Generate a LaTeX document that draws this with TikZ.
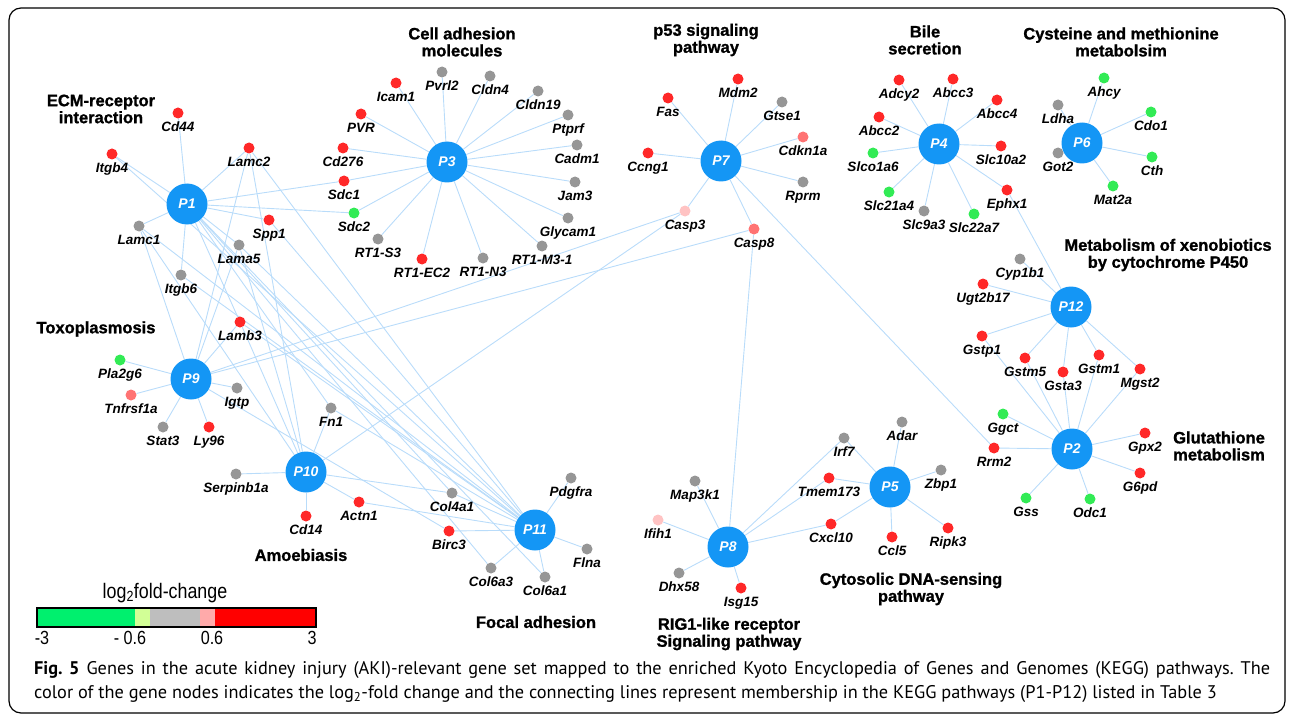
\documentclass[tikz,border=0pt]{standalone}
\usepackage{fontspec}
\setmainfont{Liberation Sans}
\newfontfamily\capfont{PT Sans}
\newfontfamily\narrowfont[FakeStretch=0.85]{Liberation Sans}
\newfontfamily\heavyfont[FakeBold=1.2]{Liberation Sans Bold}
\usetikzlibrary{backgrounds}

\definecolor{hubblue}{RGB}{20,150,245}
\definecolor{linkblue}{RGB}{185,220,250}
\definecolor{redgene}{RGB}{255,40,40}
\definecolor{salmongene}{RGB}{255,115,115}
\definecolor{pinkgene}{RGB}{255,195,195}
\definecolor{greengene}{RGB}{50,235,85}
\definecolor{graygene}{RGB}{150,150,150}
\definecolor{bargreen}{RGB}{0,240,110}
\definecolor{barlime}{RGB}{210,255,150}
\definecolor{bargray}{RGB}{190,190,190}
\definecolor{barpink}{RGB}{255,170,170}
\definecolor{barred}{RGB}{255,0,0}

\newcommand\genefont{\fontsize{13.5}{14}\selectfont\bfseries\itshape}
\newcommand\titlefont{\heavyfont\fontsize{16.5}{17}\selectfont}

\tikzset{
	hub/.style={circle, fill=hubblue, minimum size=41pt, inner sep=0pt, text=white, font=\fontsize{14}{14}\selectfont\bfseries\itshape},
	gene/.style={circle, minimum size=11pt, inner sep=0pt},
	upgene/.style={gene, fill=redgene},
	midgene/.style={gene, fill=salmongene},
	lowgene/.style={gene, fill=pinkgene},
	downgene/.style={gene, fill=greengene},
	flatgene/.style={gene, fill=graygene},
	pathway/.style={font=\titlefont, align=center},
	every label/.style={font=\genefont, inner sep=0.5pt, text height=9.5pt, text depth=2.5pt},
}

\begin{document}
\begin{tikzpicture}[x=1pt, y=-1pt, label distance=3pt]
	\useasboundingbox (0,0) rectangle (1292,722);
	\draw[line width=1.2pt, rounded corners=12pt] (9,8) rectangle (1285,713);

	% pathway hubs
	\node[hub] (p1) at (187,204) {P1};
	\node[hub] (p3) at (447,162) {P3};
	\node[hub] (p7) at (721,161) {P7};
	\node[hub] (p4) at (939,144) {P4};
	\node[hub] (p6) at (1082,143) {P6};
	\node[hub] (p12) at (1071,307) {P12};
	\node[hub] (p2) at (1072,449) {P2};
	\node[hub] (p5) at (890,487) {P5};
	\node[hub] (p8) at (728,547) {P8};
	\node[hub] (p9) at (191,379) {P9};
	\node[hub] (p10) at (306,472) {P10};
	\node[hub] (p11) at (535,530) {P11};

	% ECM-receptor interaction
	\node[upgene, label=below:Cd44] (cd44) at (178,113) {};
	\node[upgene, label=below:Itgb4] (itgb4) at (112,154) {};
	\node[upgene, label=below:Lamc2] (lamc2) at (249,148) {};
	\node[flatgene, label=below:Lamc1] (lamc1) at (139,226) {};
	\node[flatgene, label=below:Itgb6] (itgb6) at (181,275) {};
	\node[flatgene, label=below:Lama5] (lama5) at (239,245) {};
	\node[upgene, label=below:Spp1] (spp1) at (269,220) {};
	\node[upgene, label=below:Sdc1] (sdc1) at (344,181) {};
	\node[downgene, label=below:Sdc2] (sdc2) at (354,213) {};
	\node[upgene, label=below:Lamb3] (lamb3) at (240,322) {};

	% cell adhesion molecules
	\node[upgene, label=below:Icam1] (icam1) at (396,83) {};
	\node[flatgene, label=below:Pvrl2] (pvrl2) at (442,72) {};
	\node[flatgene, label=below:Cldn4] (cldn4) at (490,76) {};
	\node[flatgene, label=below:Cldn19] (cldn19) at (538,91) {};
	\node[flatgene, label=below:Ptprf] (ptprf) at (568,115) {};
	\node[flatgene, label=below:Cadm1] (cadm1) at (577,145) {};
	\node[flatgene, label=below:Jam3] (jam3) at (575,182) {};
	\node[flatgene, label=below:Glycam1] (glycam1) at (568,218) {};
	\node[flatgene, label=below:RT1-M3-1] (rt1m31) at (542,246) {};
	\node[flatgene, label=below:RT1-N3] (rt1n3) at (483,258) {};
	\node[upgene, label=below:RT1-EC2] (rt1ec2) at (422,259) {};
	\node[flatgene, label=below:RT1-S3] (rt1s3) at (378,239) {};
	\node[upgene, label=below:Cd276] (cd276) at (343,148) {};
	\node[upgene, label=below:PVR] (pvr) at (361,114) {};

	% p53 signaling
	\node[upgene, label=below:Fas] (fas) at (668,98) {};
	\node[upgene, label=below:Mdm2] (mdm2) at (738,79) {};
	\node[flatgene, label=below:Gtse1] (gtse1) at (782,102) {};
	\node[midgene, label=below:Cdkn1a] (cdkn1a) at (803,137) {};
	\node[flatgene, label=below:Rprm] (rprm) at (803,182) {};
	\node[upgene, label=below:Ccng1] (ccng1) at (648,153) {};
	\node[lowgene, label=below:Casp3] (casp3) at (685,211) {};
	\node[midgene, label=below:Casp8] (casp8) at (754,229) {};

	% bile secretion
	\node[upgene, label=below:Adcy2] (adcy2) at (899,80) {};
	\node[upgene, label=below:Abcc3] (abcc3) at (953,79) {};
	\node[upgene, label=below:Abcc4] (abcc4) at (997,100) {};
	\node[upgene, label=below:Abcc2] (abcc2) at (879,117) {};
	\node[downgene, label=below:Slco1a6] (slco1a6) at (873,153) {};
	\node[upgene, label=below:Slc10a2] (slc10a2) at (1001,146) {};
	\node[upgene, label=below:Ephx1] (ephx1) at (1007,190) {};
	\node[downgene, label=below:Slc21a4] (slc21a4) at (889,192) {};
	\node[flatgene, label=below:Slc9a3] (slc9a3) at (924,211) {};
	\node[downgene, label=below:Slc22a7] (slc22a7) at (974,214) {};

	% cysteine and methionine
	\node[downgene, label=below:Ahcy] (ahcy) at (1104,78) {};
	\node[flatgene, label=below:Ldha] (ldha) at (1058,105) {};
	\node[downgene, label=below:Cdo1] (cdo1) at (1151,112) {};
	\node[flatgene, label=below:Got2] (got2) at (1058,153) {};
	\node[downgene, label=below:Cth] (cth) at (1152,157) {};
	\node[downgene, label=below:Mat2a] (mat2a) at (1113,186) {};

	% xenobiotics and glutathione
	\node[flatgene, label=below:Cyp1b1] (cyp1b1) at (1020,259) {};
	\node[upgene, label=below:Ugt2b17] (ugt2b17) at (983,284) {};
	\node[upgene, label=below:Gstp1] (gstp1) at (982,336) {};
	\node[upgene, label=below:Gstm5] (gstm5) at (1025,358) {};
	\node[upgene, label=below:Gsta3] (gsta3) at (1063,372) {};
	\node[upgene, label=below:Gstm1] (gstm1) at (1099,355) {};
	\node[upgene, label=below:Mgst2] (mgst2) at (1140,369) {};
	\node[downgene, label=below:Ggct] (ggct) at (1003,414) {};
	\node[upgene, label=below:Rrm2] (rrm2) at (994,448) {};
	\node[upgene, label=below:Gpx2] (gpx2) at (1145,433) {};
	\node[upgene, label=below:G6pd] (g6pd) at (1140,473) {};
	\node[downgene, label=below:Gss] (gss) at (1026,498) {};
	\node[downgene, label=below:Odc1] (odc1) at (1090,499) {};

	% DNA sensing and RIG1
	\node[flatgene, label=below:Irf7] (irf7) at (844,438) {};
	\node[flatgene, label=below:Adar] (adar) at (902,422) {};
	\node[flatgene, label=below:Zbp1] (zbp1) at (941,470) {};
	\node[upgene, label=below:Tmem173] (tmem173) at (829,478) {};
	\node[upgene, label=below:Cxcl10] (cxcl10) at (831,524) {};
	\node[upgene, label=below:Ccl5] (ccl5) at (892,537) {};
	\node[upgene, label=below:Ripk3] (ripk3) at (948,528) {};
	\node[flatgene, label=below:Map3k1] (map3k1) at (695,481) {};
	\node[lowgene, label=below:Ifih1] (ifih1) at (658,520) {};
	\node[flatgene, label=below:Dhx58] (dhx58) at (679,573) {};
	\node[upgene, label=below:Isg15] (isg15) at (741,588) {};

	% toxoplasmosis, amoebiasis, focal adhesion
	\node[downgene, label=below:Pla2g6] (pla2g6) at (120,360) {};
	\node[midgene, label=below:Tnfrsf1a] (tnfrsf1a) at (131,395) {};
	\node[flatgene, label=below:Stat3] (stat3) at (163,427) {};
	\node[upgene, label=below:Ly96] (ly96) at (209,427) {};
	\node[flatgene, label=below:Igtp] (igtp) at (237,388) {};
	\node[flatgene, label=below:Fn1] (fn1) at (331,408) {};
	\node[flatgene, label=below:Serpinb1a] (serpinb1a) at (236,474) {};
	\node[upgene, label=below:Cd14] (cd14) at (306,516) {};
	\node[upgene, label=below:Actn1] (actn1) at (359,502) {};
	\node[flatgene, label=below:Col4a1] (col4a1) at (452,493) {};
	\node[upgene, label=below:Birc3] (birc3) at (449,531) {};
	\node[flatgene, label=below:Col6a3] (col6a3) at (491,568) {};
	\node[flatgene, label=below:Col6a1] (col6a1) at (545,577) {};
	\node[flatgene, label=below:Pdgfra] (pdgfra) at (571,478) {};
	\node[flatgene, label=below:Flna] (flna) at (587,549) {};

	\begin{scope}[on background layer, every edge/.style={draw=linkblue, line width=0.9pt}]
		\path (p1) edge (cd44) edge (itgb4) edge (lamc2) edge (lamc1) edge (itgb6) edge (lama5) edge (spp1)
			edge (sdc1) edge (sdc2) edge (lamb3) edge (fn1) edge (col4a1) edge (col6a1) edge (col6a3);
		\path (p3) edge (icam1) edge (pvrl2) edge (cldn4) edge (cldn19) edge (ptprf) edge (cadm1) edge (jam3)
			edge (glycam1) edge (rt1m31) edge (rt1n3) edge (rt1ec2) edge (rt1s3) edge (sdc2) edge (sdc1) edge (cd276) edge (pvr);
		\path (p7) edge (fas) edge (mdm2) edge (gtse1) edge (cdkn1a) edge (rprm) edge (ccng1) edge (casp3) edge (casp8) edge (rrm2);
		\path (p4) edge (adcy2) edge (abcc3) edge (abcc4) edge (abcc2) edge (slco1a6) edge (slc10a2) edge (ephx1)
			edge (slc21a4) edge (slc9a3) edge (slc22a7);
		\path (p6) edge (ahcy) edge (ldha) edge (cdo1) edge (got2) edge (cth) edge (mat2a);
		\path (p12) edge (cyp1b1) edge (ugt2b17) edge (gstp1) edge (gstm5) edge (gsta3) edge (gstm1) edge (mgst2) edge (ephx1);
		\path (p2) edge (ggct) edge (rrm2) edge (gpx2) edge (g6pd) edge (gss) edge (odc1)
			edge (gstp1) edge (gstm5) edge (gsta3) edge (gstm1) edge (mgst2);
		\path (p5) edge (irf7) edge (adar) edge (zbp1) edge (tmem173) edge (cxcl10) edge (ccl5) edge (ripk3);
		\path (p8) edge (map3k1) edge (ifih1) edge (dhx58) edge (isg15) edge (casp8) edge (irf7) edge (tmem173) edge (cxcl10);
		\path (p9) edge (pla2g6) edge (tnfrsf1a) edge (stat3) edge (ly96) edge (igtp) edge (lamc1) edge (lamc2)
			edge (lama5) edge (lamb3) edge (casp3) edge (casp8) edge (birc3);
		\path (p10) edge (fn1) edge (serpinb1a) edge (cd14) edge (actn1) edge (col4a1) edge (casp3)
			edge (lamc1) edge (lamc2) edge (lama5) edge (lamb3);
		\path (p11) edge (pdgfra) edge (flna) edge (col6a1) edge (col6a3) edge (col4a1) edge (birc3) edge (actn1) edge (fn1)
			edge (lamc1) edge (lamc2) edge (lama5) edge (lamb3) edge (itgb4) edge (itgb6) edge (spp1);
	\end{scope}

	% pathway names
	\node[pathway] (ecmname) at (101,109) {ECM-receptor\\interaction};
	\node[pathway] (camname) at (462,42) {Cell adhesion\\molecules};
	\node[pathway] (p53name) at (706,40) {p53 signaling\\pathway};
	\node[pathway] (bilename) at (925,40) {Bile\\secretion};
	\node[pathway] (cysname) at (1121,42) {Cysteine and methionine\\metabolsim};
	\node[pathway] (xenoname) at (1168,255) {Metabolism of xenobiotics\\by cytochrome P450};
	\node[pathway] (toxoname) at (96,329) {Toxoplasmosis};
	\node[pathway] (gluname) at (1219,446) {Glutathione\\metabolism};
	\node[pathway] (amoename) at (301,555) {Amoebiasis};
	\node[pathway] (focalname) at (536,622) {Focal adhesion};
	\node[pathway] (rigname) at (729,634) {RIG1-like receptor\\Signaling pathway};
	\node[pathway] (dnaname) at (911,589) {Cytosolic DNA-sensing\\pathway};

	% colour key
	\node[font=\narrowfont\fontsize{21}{21}\selectfont] (keytitle) at (165,593) {log\textsubscript{2}fold-change};
	\fill[bargreen] (37,608) rectangle (135,627);
	\fill[barlime] (135,608) rectangle (150,627);
	\fill[bargray] (150,608) rectangle (200,627);
	\fill[barpink] (200,608) rectangle (215,627);
	\fill[barred] (215,608) rectangle (316,627);
	\draw[line width=2.5pt] (37,608) rectangle (316,627);
	\node[font=\narrowfont\fontsize{19}{19}\selectfont] (keymin) at (42,638) {-3};
	\node[font=\narrowfont\fontsize{19}{19}\selectfont] (keylow) at (130,638) {- 0.6};
	\node[font=\narrowfont\fontsize{19}{19}\selectfont] (keyhigh) at (212,638) {0.6};
	\node[font=\narrowfont\fontsize{19}{19}\selectfont] (keymax) at (312,638) {3};

	% caption
	\node[anchor=north west, inner sep=0pt, text width=1236pt, align=justify, font=\capfont\fontsize{18.3}{24}\selectfont\frenchspacing] (caption) at (34,661)
		{\textbf{Fig. 5} Genes in the acute kidney injury (AKI)-relevant gene set mapped to the enriched Kyoto Encyclopedia of Genes and Genomes (KEGG) pathways. The\linebreak
		color of the gene nodes indicates the log\textsubscript{2}-fold change and the connecting lines represent membership in the KEGG pathways (P1-P12) listed in Table 3};
\end{tikzpicture}
\end{document}
